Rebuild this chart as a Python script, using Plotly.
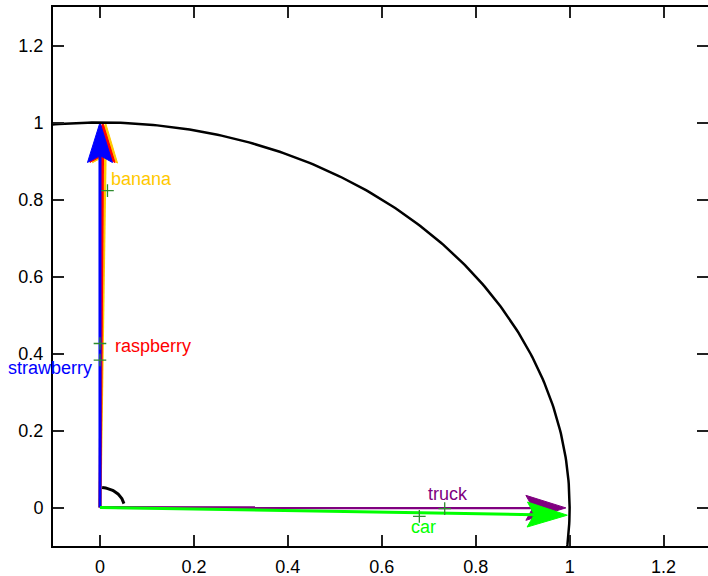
import numpy as np
import plotly.graph_objects as go

# ---- data ----
vec_names = ["banana", "raspberry", "strawberry", "truck", "car"]
vec_x = [0.012, 0.006, 0.0, 0.992, 0.995]
vec_y = [0.999, 1.0, 1.0, -0.001, -0.02]
vec_colors = ["#FFC800", "#FF0000", "#0000FF", "#800080", "#00FF00"]

label_x = [0.020, 0.027, -0.013, 0.740, 0.689]
label_y = [0.852, 0.4195, 0.362, 0.0346, -0.0512]
label_anchor = ["left", "left", "right", "center", "center"]

mark_x = [0.016, 0.0, 0.0, 0.734, 0.680]
mark_y = [0.823, 0.426, 0.383, -0.003, -0.023]

unit_radius = 1.0
angle_radius = 0.052
angle_from_deg = 11
angle_to_deg = 85

x_range = [-0.1, 1.2946]
y_range = [-0.1, 1.3]
tick_vals = [0, 0.2, 0.4, 0.6, 0.8, 1.0, 1.2]
tick_text = ["0", "0.2", "0.4", "0.6", "0.8", "1", "1.2"]

# ---- layout geometry ----
W, H = 708, 576
ML, MR, MT, MB = 53, 0, 7, 30
px_per_x = (W - ML - MR) / (x_range[1] - x_range[0])
px_per_y = (H - MT - MB) / (y_range[1] - y_range[0])

HEAD_LEN = 40.0
HEAD_HALF = 12.5
HEAD_NOTCH = 33.0

FONT = "Liberation Sans, Arial, sans-serif"

fig = go.Figure()

# big circle
th = np.linspace(0, 2 * np.pi, 721)
fig.add_trace(go.Scatter(x=unit_radius * np.cos(th), y=unit_radius * np.sin(th),
                         mode="lines", line=dict(color="black", width=2.5),
                         hoverinfo="skip", showlegend=False, yaxis="y2"))

# small angle arc
ta = np.radians(np.linspace(angle_from_deg, angle_to_deg, 60))
fig.add_trace(go.Scatter(x=angle_radius * np.cos(ta), y=angle_radius * np.sin(ta),
                         mode="lines", line=dict(color="black", width=3),
                         hoverinfo="skip", showlegend=False))


def head(vx, vy):
    dxp, dyp = vx * px_per_x, vy * px_per_y
    n = np.hypot(dxp, dyp)
    ux, uy = dxp / n, dyp / n
    nx, ny = -uy, ux

    def to_data(ox, oy):
        return vx + ox / px_per_x, vy + oy / px_per_y
    p_tip = (vx, vy)
    p_l = to_data(-HEAD_LEN * ux + HEAD_HALF * nx, -HEAD_LEN * uy + HEAD_HALF * ny)
    p_notch = to_data(-HEAD_NOTCH * ux, -HEAD_NOTCH * uy)
    p_r = to_data(-HEAD_LEN * ux - HEAD_HALF * nx, -HEAD_LEN * uy - HEAD_HALF * ny)
    pts = [p_tip, p_l, p_notch, p_r, p_tip]
    return [p[0] for p in pts], [p[1] for p in pts], p_notch


for name, vx, vy, col in zip(vec_names, vec_x, vec_y, vec_colors):
    hx, hy, notch = head(vx, vy)
    fig.add_trace(go.Scatter(x=[0, notch[0]], y=[0, notch[1]], mode="lines",
                             line=dict(color=col, width=3), hoverinfo="skip",
                             showlegend=False))
    fig.add_trace(go.Scatter(x=hx, y=hy, mode="lines", fill="toself",
                             fillcolor=col, line=dict(color=col, width=1),
                             hoverinfo="skip", showlegend=False))

# small + markers
fig.add_trace(go.Scatter(x=mark_x, y=mark_y, mode="markers",
                         marker=dict(symbol="cross-thin", size=9,
                                     line=dict(color="#2e8b2e", width=1.3)),
                         hoverinfo="skip", showlegend=False))

for name, lx, ly, anc, col in zip(vec_names, label_x, label_y, label_anchor, vec_colors):
    fig.add_annotation(x=lx, y=ly, text=name, showarrow=False, xanchor=anc,
                       yanchor="middle", font=dict(family=FONT, size=18, color=col))

axis_common = dict(ticks="inside", ticklen=11, tickwidth=1.5, tickcolor="#222",
                   showgrid=False, zeroline=False, automargin=False,
                   tickfont=dict(family=FONT, size=18, color="black"))

fig.update_layout(
    width=W, height=H,
    margin=dict(l=ML, r=MR, t=MT, b=MB, autoexpand=False),
    plot_bgcolor="white", paper_bgcolor="white",
    xaxis=dict(range=x_range, tickvals=tick_vals, ticktext=tick_text,
               showline=True, linecolor="black", linewidth=2, mirror="ticks",
               ticklabelstandoff=3, **axis_common),
    yaxis=dict(range=y_range, tickvals=tick_vals, ticktext=tick_text,
               showline=True, linecolor="black", linewidth=2, mirror=False,
               ticklabelstandoff=4, **axis_common),
    yaxis2=dict(range=y_range, overlaying="y", side="right", matches="y",
                tickvals=tick_vals, showticklabels=False, showline=False,
                **axis_common),
)

fig.write_html("out.html",
               config={"displayModeBar": False},
               post_script="document.body.style.margin='0';"
                           "document.body.style.overflow='hidden';")
